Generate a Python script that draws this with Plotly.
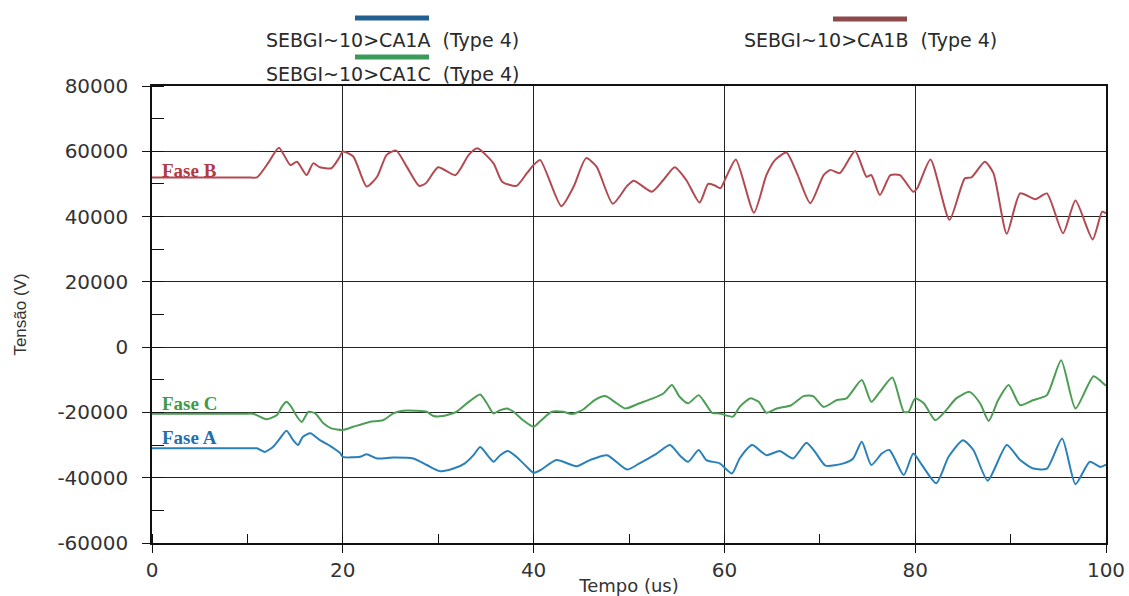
import plotly.graph_objects as go

# ---------------- data ----------------
t_b = [0, 10.0, 11.0, 12.2, 13.3, 14.5, 15.2, 16.2, 16.9, 17.6, 18.8, 19.6, 20.0, 21.1, 22.5, 23.6,
       24.6, 25.6, 26.7, 28.0, 28.7, 30.0, 31.8, 33.2, 34.1, 35.8, 36.7, 38.2, 39.3, 40.0,
       40.7, 42.9, 44.2, 45.5, 46.6, 48.3, 49.8, 50.5, 52.4, 53.6, 54.8, 56.0, 57.4, 58.3,
       59.0, 59.6, 60.2, 61.2, 63.1, 64.4, 65.3, 66.5, 67.6, 69.0, 70.4, 71.1, 72.1, 73.7,
       74.9, 75.4, 76.3, 77.4, 78.4, 79.8, 80.2, 81.6, 83.6, 85.2, 85.9, 87.3, 88.2, 89.6,
       91.0, 92.6, 93.8, 95.5, 96.8, 98.6, 99.6, 100]
v_b = [52000, 52000, 52000, 56500, 61100, 55800, 56800, 52700, 56300, 55100, 54800, 57900, 59900,
       58400, 49200, 52200, 58900, 60200, 55300, 49400, 50200, 55100, 52700, 58900, 60900,
       56300, 50700, 49400, 53300, 55800, 57300, 43200, 49200, 57900, 55300, 43900, 49400,
       51000, 47600, 51200, 55100, 51200, 44300, 50000, 49500, 48700, 52200, 57500, 41200,
       52700, 57300, 59600, 53300, 44100, 52700, 54300, 53300, 60100, 52200, 52700, 46600,
       52700, 52700, 47600, 48600, 57500, 39000, 51700, 52000, 56800, 53300, 34700, 47100,
       45300, 47100, 34900, 44900, 33000, 41500, 41000]

t_c = [0, 9.6, 10.6, 12.0, 13.1, 13.6, 14.1, 14.6, 15.2, 15.7, 16.4, 17.1, 18.0, 18.8, 20.0, 21.1,
       22.8, 24.2, 25.3, 26.3, 27.7, 28.8, 29.5, 30.5, 31.9, 33.2, 34.4, 35.1, 35.8, 36.5,
       37.2, 37.9, 38.9, 40.0, 40.8, 41.9, 43.1, 44.0, 45.2, 46.4, 47.5, 48.5, 49.6, 51.1,
       52.5, 53.6, 54.5, 55.3, 56.2, 57.3, 58.0, 58.7, 59.5, 60.9, 61.6, 62.7, 63.6, 64.4,
       65.5, 67.0, 68.3, 69.3, 70.4, 71.8, 72.8, 74.4, 75.4, 76.3, 77.6, 78.8, 79.3, 80.0,
       80.9, 82.1, 83.1, 84.3, 85.7, 86.8, 87.7, 88.7, 89.8, 91.0, 92.4, 93.8, 95.3, 96.8,
       98.7, 99.9, 100]
v_c = [-20400, -20400, -20400, -22100, -20800, -18300, -16750, -18300, -21300, -22900, -19800, -20300,
       -23400, -24900, -25400, -24400, -22900, -22400, -20300, -19500, -19500, -19800, -21100,
       -21100, -19800, -16750, -14500, -17200, -20300, -19300, -18800, -19800, -22400, -24400,
       -22400, -19800, -19800, -20500, -19100, -16200, -15000, -16750, -18800, -17200, -15700,
       -14200, -11600, -15200, -17200, -14700, -17200, -20100, -20300, -21300, -18300, -15700,
       -16750, -20100, -18800, -17800, -15000, -15000, -18300, -16200, -15700, -10100, -16750,
       -13700, -9300, -19800, -19800, -15700, -17200, -22400, -19800, -15700, -13700, -17200,
       -22600, -16200, -11600, -17800, -16200, -14700, -4000, -18800, -8900, -11600, -11800]

t_a = [0, 10.0, 11.0, 11.8, 12.7, 13.4, 14.1, 14.8, 15.3, 15.8, 16.6, 17.6, 18.7, 19.7, 20.0, 21.8,
       22.5, 23.6, 25.3, 27.4, 28.8, 30.2, 31.6, 32.8, 33.7, 34.4, 35.3, 35.8, 36.5, 37.3,
       38.2, 39.3, 40.0, 40.7, 42.4, 44.5, 45.9, 47.7, 49.8, 51.1, 52.9, 54.3, 55.3, 56.2,
       57.3, 58.1, 59.5, 60.8, 61.6, 62.9, 64.4, 65.8, 67.2, 68.6, 69.5, 70.6, 72.5, 73.5,
       74.4, 75.4, 76.5, 77.3, 78.8, 79.8, 80.7, 82.2, 83.5, 85.0, 86.1, 87.6, 89.6, 91.0,
       92.4, 93.8, 95.4, 96.8, 98.3, 99.4, 100]
v_a = [-31000, -31000, -31000, -32100, -30500, -28000, -25600, -28500, -30000, -27500, -26400, -28500,
       -30300, -32400, -33600, -33600, -32800, -34100, -33800, -34100, -36100, -38000, -37200,
       -35600, -33100, -30600, -33600, -35100, -33100, -31800, -33600, -36700, -38500, -37700,
       -34600, -36500, -34600, -33100, -37500, -35600, -32600, -30000, -33100, -35100, -31500,
       -34600, -35600, -38700, -34100, -30000, -33100, -31800, -34100, -29300, -32100, -36300,
       -35600, -34100, -29000, -36100, -32600, -31500, -39200, -32600, -36100, -41700, -33600,
       -28500, -31500, -40900, -30000, -34600, -37200, -37200, -28000, -42000, -35100, -36700,
       -36000]

series_names = ["SEBGI~10>CA1A \u00a0(Type 4)", "SEBGI~10>CA1B \u00a0(Type 4)",
                "SEBGI~10>CA1C \u00a0(Type 4)"]
phase_labels = ["Fase A", "Fase B", "Fase C"]
phase_label_y = [-27600, 54200, -17200]

x_tickvals = [0, 20, 40, 60, 80, 100]
x_ticktext = ["0", "20", "40", "60", "80", "100"]
y_tickvals = [80000, 60000, 40000, 20000, 0, -20000, -40000, -60000]
y_ticktext = ["80000", "60000", "40000", "20000", "0", "-20000", "-40000", "-60000"]

# ---------------- styles ----------------
line_colors = ["#2a80b8", "#b24a52", "#4c9e55"]
label_colors = ["#1f6fae", "#b23a44", "#3f9a48"]
legend_colors = ["#24608f", "#8c4a4c", "#3a9a58"]
W, H = 1129, 596
L, R, T, B = 152, 23, 86, 53

fig = go.Figure()
for t, v, name, col in [(t_a, v_a, series_names[0], line_colors[0]),
                        (t_b, v_b, series_names[1], line_colors[1]),
                        (t_c, v_c, series_names[2], line_colors[2])]:
    fig.add_trace(go.Scatter(x=t, y=v, name=name, mode="lines",
                             line=dict(color=col, width=2, shape="spline", smoothing=0.6),
                             showlegend=False))

# custom legend (swatch above text, as in the reference)
pw = W - L - R
ph = H - T - B
def px_to_paper_x(px):
    return (px - L) / pw
def py_to_paper_y(py):
    return (H - B - py) / ph

legend_pos = [(392, 18, 40), (870, 19, 40), (392, 57, 74)]
shapes = []
annots = []
for (cx, sy, ty), name, col in zip(legend_pos, series_names, legend_colors):
    shapes.append(dict(type="line", xref="paper", yref="paper",
                       x0=px_to_paper_x(cx - 37), x1=px_to_paper_x(cx + 37),
                       y0=py_to_paper_y(sy), y1=py_to_paper_y(sy),
                       line=dict(color=col, width=5)))
    annots.append(dict(xref="paper", yref="paper", x=px_to_paper_x(cx), y=py_to_paper_y(ty),
                       text=name, showarrow=False, xanchor="center", yanchor="middle",
                       font=dict(family="DejaVu Sans", size=19, color="#2a2a2a")))

for lab, ly, col in zip(phase_labels, phase_label_y, label_colors):
    annots.append(dict(x=0.8, y=ly, xref="x", yref="y", text="<b>%s</b>" % lab,
                       showarrow=False, xanchor="left", yanchor="middle",
                       font=dict(family="Liberation Serif", size=19, color=col)))

fig.update_layout(
    width=W, height=H,
    margin=dict(l=L, r=R, t=T, b=B, autoexpand=False),
    paper_bgcolor="white", plot_bgcolor="white",
    shapes=shapes, annotations=annots,
    showlegend=False,
)
fig.update_xaxes(range=[0, 100], tickvals=x_tickvals, ticktext=x_ticktext,
                 automargin=False,
                 showgrid=True, gridcolor="#222", gridwidth=1.3,
                 showline=True, linecolor="#111", linewidth=1.5, mirror=True,
                 ticks="outside", ticklen=8, tickcolor="#111",
                 minor=dict(ticks="inside", ticklen=9, dtick=10, tickcolor="#111", showgrid=False),
                 tickfont=dict(family="DejaVu Sans", size=20, color="#333"),
                 title=dict(text="Tempo (us)", standoff=0,
                            font=dict(family="DejaVu Sans", size=18, color="#333")),
                 zeroline=False)
fig.update_yaxes(range=[-60000, 80000], tickvals=y_tickvals, ticktext=y_ticktext,
                 automargin=False,
                 showgrid=True, gridcolor="#222", gridwidth=1.3,
                 showline=True, linecolor="#111", linewidth=1.5, mirror=True,
                 ticks="outside", ticklen=8, tickcolor="#111",
                 ticklabelstandoff=10,
                 minor=dict(ticks="inside", ticklen=12, dtick=10000, tickcolor="#111", showgrid=False),
                 tickfont=dict(family="DejaVu Sans", size=20, color="#333"),
                 title=dict(text="Tensão (V)", standoff=26,
                            font=dict(family="Liberation Sans", size=17, color="#333")),
                 zeroline=False)

fig.write_html("out.html")
